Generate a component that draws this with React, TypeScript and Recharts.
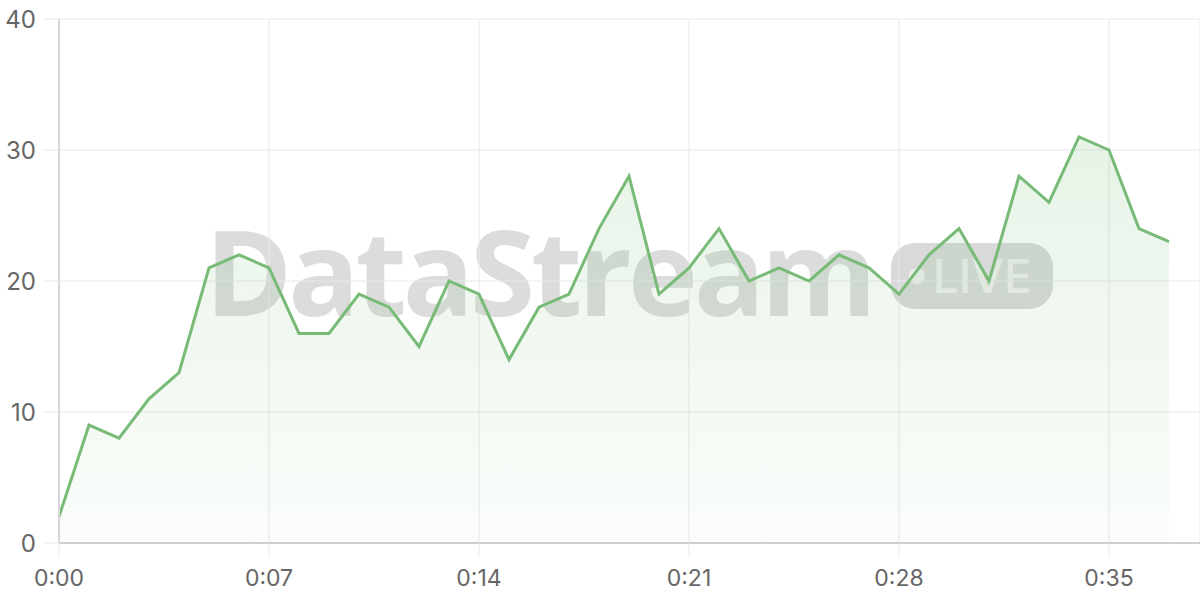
import React from 'react';
import { AreaChart, Area, XAxis, YAxis, CartesianGrid } from 'recharts';

const minutes = [
  '0:00', '0:01', '0:02', '0:03', '0:04', '0:05', '0:06', '0:07', '0:08', '0:09',
  '0:10', '0:11', '0:12', '0:13', '0:14', '0:15', '0:16', '0:17', '0:18', '0:19',
  '0:20', '0:21', '0:22', '0:23', '0:24', '0:25', '0:26', '0:27', '0:28', '0:29',
  '0:30', '0:31', '0:32', '0:33', '0:34', '0:35', '0:36', '0:37',
];

const viewers = [
  2, 9, 8, 11, 13, 21, 22, 21, 16, 16,
  19, 18, 15, 20, 19, 14, 18, 19, 24, 28,
  19, 21, 24, 20, 21, 20, 22, 21, 19, 22,
  24, 20, 28, 26, 31, 30, 24, 23,
];

const yTicks = [0, 10, 20, 30, 40];

const data = minutes.map((t, i) => ({ t, v: viewers[i] }));

const font = "Inter, 'Open Sans', sans-serif";

export default function App() {
  return (
    <div style={{ position: 'absolute', left: 0, top: 0, width: 1200, height: 600, fontFamily: font }}>
      {/* watermark sits behind the chart */}
      <div
        style={{
          position: 'absolute',
          left: 205,
          top: 206,
          display: 'flex',
          alignItems: 'center',
          pointerEvents: 'none',
        }}
      >
        <span
          style={{
            fontFamily: "'Open Sans', Inter, sans-serif",
            fontWeight: 700,
            fontSize: 118,
            letterSpacing: -4,
            color: '#dcdcdc',
            lineHeight: '130px',
          }}
        >
          DataStream
        </span>
        <span
          style={{
            marginLeft: 18,
            marginTop: 10,
            background: '#d9d9d9',
            borderRadius: 24,
            width: 162,
            height: 66,
            display: 'flex',
            alignItems: 'center',
            boxSizing: 'border-box',
            paddingLeft: 18,
          }}
        >
          <span style={{ width: 16, height: 16, borderRadius: 8, background: '#efefef', marginRight: 8 }} />
          <span style={{ color: '#efefef', fontSize: 46, fontWeight: 500, lineHeight: '46px' }}>LIVE</span>
        </span>
      </div>
      <div style={{ position: 'absolute', left: 0, top: 0 }}>
        <AreaChart width={1200} height={600} data={data} margin={{ top: 19, right: 0, bottom: 0, left: 0 }}>
          <defs>
            <linearGradient id="fillGreen" x1="0" y1="0" x2="0" y2="1">
              <stop offset="0%" stopColor="#7cbf7c" stopOpacity={0.3} />
              <stop offset="100%" stopColor="#7cbf7c" stopOpacity={0.06} />
            </linearGradient>
          </defs>
          <CartesianGrid stroke="#e8e8e8" strokeWidth={1} />
          <XAxis
            dataKey="t"
            interval={6}
            height={57}
            padding={{ left: 0, right: 31 }}
            tickSize={15}
            tickLine={{ stroke: '#e8e8e8' }}
            axisLine={{ stroke: '#cfcfcf', strokeWidth: 2 }}
            tick={{ fill: '#666', fontSize: 23, fontFamily: font }}
            tickMargin={12}
          />
          <YAxis
            domain={[0, 40]}
            ticks={yTicks}
            width={59}
            tickSize={15}
            tickLine={{ stroke: '#e8e8e8' }}
            axisLine={{ stroke: '#d6d6d6', strokeWidth: 2 }}
            tick={{ fill: '#666', fontSize: 24, fontFamily: font }}
            tickMargin={8}
          />
          <Area
            type="linear"
            dataKey="v"
            stroke="#77bb77"
            strokeWidth={3}
            fill="url(#fillGreen)"
            dot={false}
            activeDot={false}
            isAnimationActive={false}
          />
        </AreaChart>
      </div>
    </div>
  );
}
